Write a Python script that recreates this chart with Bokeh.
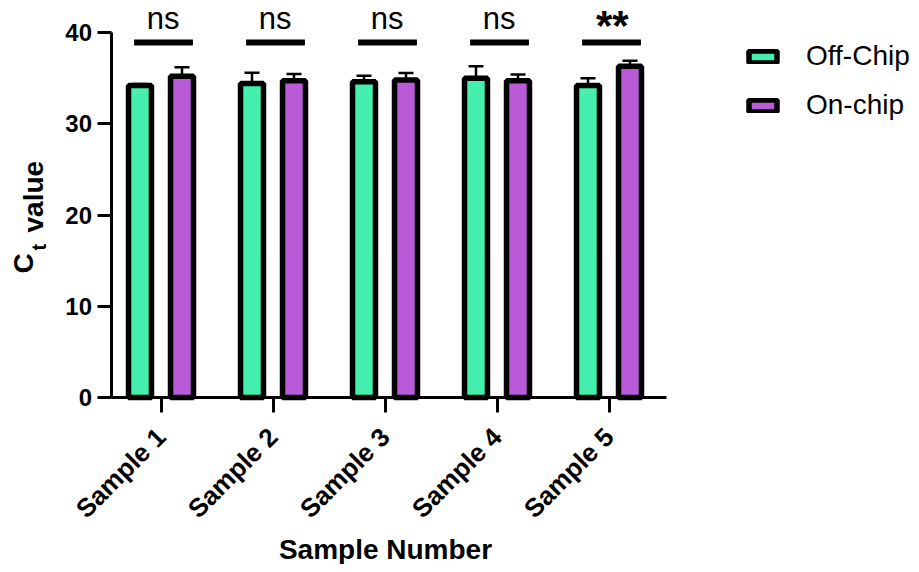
import numpy as np
from bokeh.plotting import figure
from bokeh.models import (ColumnDataSource, FixedTicker, Legend, LegendItem,
                          Whisker, TeeHead, Label, Range1d, LinearAxis)
from bokeh.embed import file_html
from bokeh.resources import INLINE

# ---------------- data ----------------
samples = ["Sample 1", "Sample 2", "Sample 3", "Sample 4", "Sample 5"]
off_chip = [34.2, 34.4, 34.6, 35.0, 34.2]
off_chip_sd = [0.15, 1.2, 0.65, 1.3, 0.8]
on_chip = [35.2, 34.7, 34.8, 34.7, 36.3]
on_chip_sd = [1.0, 0.75, 0.75, 0.7, 0.6]
significance = ["ns", "ns", "ns", "ns", "**"]
series_names = ["Off-Chip", "On-chip"]
y_ticks = [0, 10, 20, 30, 40]
sig_level = 38.9

# ---------------- styling / layout ----------------
GREEN = "#45F0AE"
PURPLE = "#B95AD6"
FONT = "Liberation Sans"
DODGE = 0.1875
BAR_W = 0.205
W, H = 911, 564
X0_PX, X_STEP = 160.5, 112.0      # pixel of first group, pixels per group
Y0_PX, Y_STEP = 397.0, 9.125      # pixel of value 0, pixels per unit


def px_x(px):
    return (px - X0_PX) / X_STEP


def px_y(py):
    return (Y0_PX - py) / Y_STEP


xs = np.arange(len(samples))
off_top = np.array(off_chip) + np.array(off_chip_sd)
on_top = np.array(on_chip) + np.array(on_chip_sd)

src_off = ColumnDataSource(dict(x=xs - DODGE, top=off_chip, upper=off_top))
src_on = ColumnDataSource(dict(x=xs + DODGE, top=on_chip, upper=on_top))
src_sig = ColumnDataSource(dict(x0=xs - 0.24, x1=xs + 0.285,
                                y=[sig_level] * len(samples)))

p = figure(width=W, height=H, output_backend="svg", toolbar_location=None,
           x_range=Range1d(px_x(0), px_x(W)), y_range=Range1d(px_y(H), px_y(0)),
           x_axis_location=None, y_axis_location=None,
           min_border_left=0, min_border_right=0, min_border_top=0,
           min_border_bottom=0)
p.outline_line_color = None
p.grid.visible = False
p.background_fill_color = "white"
p.border_fill_color = "white"

r_off = p.vbar(x="x", top="top", bottom=0, width=BAR_W, source=src_off,
               fill_color=GREEN, line_color="black", line_width=5.5)
r_on = p.vbar(x="x", top="top", bottom=0, width=BAR_W, source=src_on,
              fill_color=PURPLE, line_color="black", line_width=5.5)

for src in (src_off, src_on):
    w = Whisker(base="x", lower="top", upper="upper", source=src,
                dimension="height", line_color="black", line_width=2.5,
                lower_head=None,
                upper_head=TeeHead(size=15, line_color="black", line_width=2.5))
    p.add_layout(w)

p.segment(x0="x0", x1="x1", y0="y", y1="y", source=src_sig,
          line_color="black", line_width=6, line_cap="butt")

for i, s in enumerate(significance):
    if s == "ns":
        p.add_layout(Label(x=xs[i] + 0.02, y=px_y(18), text=s, text_align="center",
                           text_baseline="middle", text_font=FONT,
                           text_font_size="31px", text_color="black"))
    else:
        p.add_layout(Label(x=xs[i] + 0.03, y=px_y(25), text=s, text_align="center",
                           text_baseline="middle", text_font=FONT,
                           text_font_style="bold",
                           text_font_size="42px", text_color="black"))

# ---------------- axes ----------------
xaxis = LinearAxis(fixed_location=0, bounds=(px_x(110.5), px_x(666)))
yaxis = LinearAxis(fixed_location=px_x(110.5), bounds=(0, 40))
p.add_layout(xaxis, "below")
p.add_layout(yaxis, "left")

for ax in (xaxis, yaxis):
    ax.axis_line_width = 3
    ax.axis_line_color = "black"
    ax.major_tick_line_width = 3
    ax.major_tick_line_color = "black"
    ax.major_tick_in = 0
    ax.minor_tick_line_color = None
    ax.major_label_text_font = FONT
    ax.major_label_text_font_style = "bold"
    ax.major_label_text_color = "black"

yaxis.ticker = FixedTicker(ticks=y_ticks)
yaxis.major_tick_out = 14
yaxis.major_label_standoff = 5
yaxis.major_label_text_font_size = "24px"

xaxis.ticker = FixedTicker(ticks=[int(i) for i in xs])
xaxis.major_label_overrides = {int(i): s for i, s in enumerate(samples)}
xaxis.major_tick_out = 15
xaxis.major_label_orientation = np.pi / 4
xaxis.major_label_standoff = 20
xaxis.major_label_text_font_size = "26px"

# axis titles
p.add_layout(Label(x=px_x(385), y=px_y(549), text="Sample Number",
                   text_align="center", text_baseline="middle", text_font=FONT,
                   text_font_style="bold", text_font_size="28px",
                   text_color="black"))
p.add_layout(Label(x=px_x(23), y=px_y(273), text="C", angle=np.pi / 2,
                   text_align="left", text_baseline="middle",
                   text_font=FONT, text_font_style="bold",
                   text_font_size="28px", text_color="black"))
p.add_layout(Label(x=px_x(38), y=px_y(250), text="t", angle=np.pi / 2,
                   text_align="left", text_baseline="middle",
                   text_font=FONT, text_font_style="bold",
                   text_font_size="20px", text_color="black"))
p.add_layout(Label(x=px_x(33), y=px_y(232), text="value", angle=np.pi / 2,
                   text_align="left", text_baseline="middle",
                   text_font=FONT, text_font_style="bold",
                   text_font_size="28px", text_color="black"))

# ---------------- legend ----------------
legend = Legend(items=[LegendItem(label=series_names[0], renderers=[r_off]),
                       LegendItem(label=series_names[1], renderers=[r_on])],
                location=(745, 443), orientation="vertical",
                glyph_width=35, glyph_height=15, label_height=32, spacing=17,
                label_standoff=26, padding=0, margin=0,
                border_line_color=None, background_fill_alpha=0,
                label_text_font=FONT, label_text_font_size="28px",
                label_text_color="black")
p.add_layout(legend)

open("out.html", "w").write(file_html(p, INLINE))
